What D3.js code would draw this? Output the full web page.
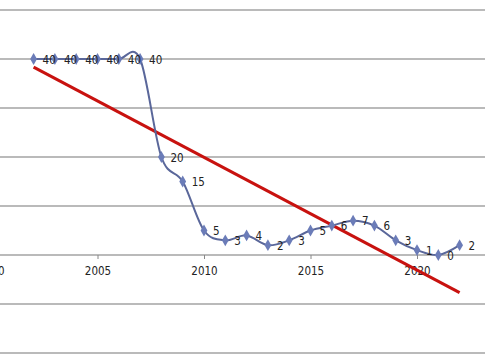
<!DOCTYPE html>
<html><head><meta charset="utf-8">
<script src="https://cdn.jsdelivr.net/npm/d3@7"></script>
<style>html,body{margin:0;padding:0;background:#fff;}svg{display:block;}</style>
</head><body>
<svg id="c" width="485" height="360"></svg>
<script>
const years = [2002,2003,2004,2005,2006,2007,2008,2009,2010,2011,2012,2013,2014,2015,2016,2017,2018,2019,2020,2021,2022];
const values = [40,40,40,40,40,40,20,15,5,3,4,2,3,5,6,7,6,3,1,0,2];
const xTicks = [2000,2005,2010,2015,2020];
const yGrid = [50,40,30,20,10,0,-10,-20];

const svg = d3.select("#c");
const x = d3.scaleLinear().domain([2000,2025]).range([-9, 523.5]);
const y = d3.scaleLinear().domain([0,40]).range([255, 59]);
const font = "'DejaVu Sans Condensed','DejaVu Sans',sans-serif";

// gridlines
svg.append("g").selectAll("line").data(yGrid).join("line")
  .attr("x1",0).attr("x2",485)
  .attr("y1",d=>y(d)).attr("y2",d=>y(d))
  .attr("stroke","#a3a3a3").attr("stroke-width",1.3);

// x axis at 0
const ax = svg.append("g").attr("transform",`translate(0,${y(0)})`)
  .call(d3.axisBottom(x).tickValues(xTicks).tickFormat(d3.format("d")).tickSize(4).tickPadding(8));
ax.select(".domain").remove();
ax.selectAll(".tick line").attr("stroke","#888");
ax.selectAll("text").attr("font-family",font).attr("font-size","11.5px").attr("fill","#222");

// trend line via least squares
const n = years.length;
const mx = d3.mean(years), my = d3.mean(values);
let sxy=0,sxx=0;
years.forEach((t,i)=>{sxy+=(t-mx)*(values[i]-my);sxx+=(t-mx)*(t-mx);});
const slope = sxy/sxx, icpt = my - slope*mx;
const tEnds = [years[0], years[n-1]];
svg.append("line")
  .attr("x1",x(tEnds[0])).attr("y1",y(icpt+slope*tEnds[0]))
  .attr("x2",x(tEnds[1])).attr("y2",y(icpt+slope*tEnds[1]))
  .attr("stroke","#c8120f").attr("stroke-width",3);

// smoothed data line
const pts = years.map((t,i)=>[t,values[i]]);
svg.append("path").datum(pts)
  .attr("d", d3.line().x(d=>x(d[0])).y(d=>y(d[1])).curve(d3.curveCatmullRom.alpha(0)))
  .attr("fill","none").attr("stroke","#5a679a").attr("stroke-width",2);

// markers
svg.append("g").selectAll("path").data(pts).join("path")
  .attr("d", d3.symbol(d3.symbolDiamond, 40))
  .attr("transform",d=>`translate(${x(d[0])},${y(d[1])})`)
  .attr("fill","#6b7cb8");

// data labels
svg.append("g").selectAll("text").data(pts).join("text")
  .attr("x",d=>x(d[0])+9).attr("y",d=>y(d[1])+4.5)
  .attr("font-family",font).attr("font-size","11.5px").attr("fill","#222")
  .text(d=>d[1]);
</script>
</body></html>
